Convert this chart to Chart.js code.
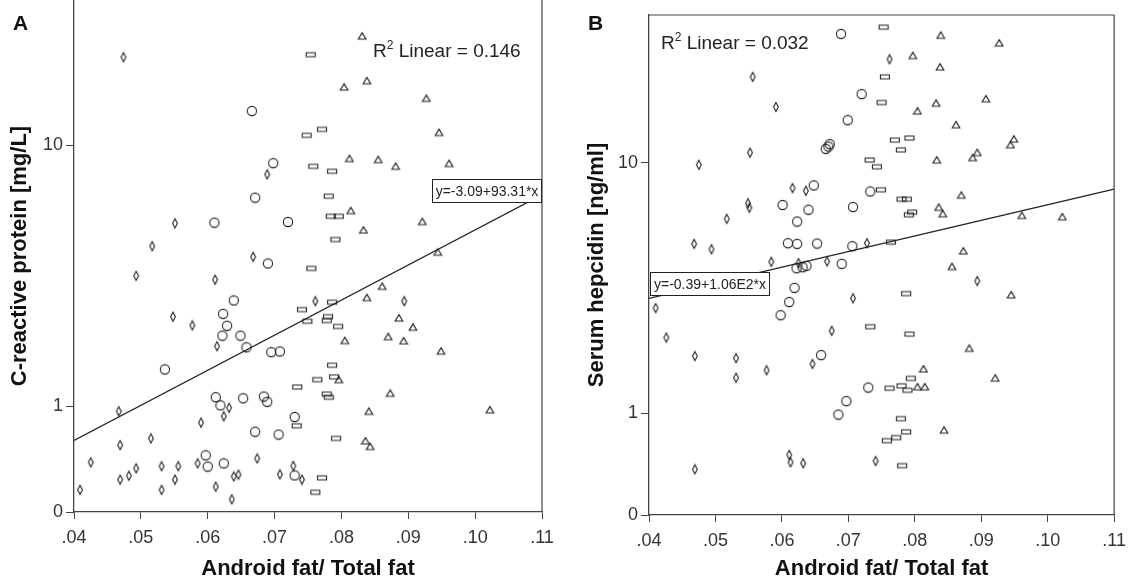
<!DOCTYPE html>
<html>
<head>
<meta charset="utf-8">
<script src="https://cdn.jsdelivr.net/npm/chart.js@4.4.1/dist/chart.umd.min.js"></script>
<style>
  html, body { margin: 0; padding: 0; background: #fff; overflow: hidden; }
  #wrap { position: relative; width: 1134px; height: 582px; overflow: hidden; }
  .panel { position: absolute; width: 567px; }
  #pA { left: 0; top: -6px; height: 588px; }
  #pB { left: 567px; top: 0; height: 582px; }
</style>
</head>
<body>
<div id="wrap">
  <div class="panel" id="pA"><canvas id="chartA"></canvas></div>
  <div class="panel" id="pB"><canvas id="chartB"></canvas></div>
</div>
<script>
// x: android fat / total fat. y values are stored as log10(value + 1), the plotted scale.
const xTicks = [0.04, 0.05, 0.06, 0.07, 0.08, 0.09, 0.10, 0.11];
const xTickLabels = ['.04', '.05', '.06', '.07', '.08', '.09', '.10', '.11'];
const yTickValues = [0, 1, 10];
const yTickLabels = ['0', '1', '10'];

// ---- panel A: C-reactive protein ----
const crpDiamondX = [.0474, .0551, .0517, .0689, .0668, .0493, .0611, .0548, .0577, .0614, .0467, .0632,
  .0624, .0590, .0515, .0469, .0425, .0409, .0469, .0482, .0493, .0531, .0531, .0551, .0556, .0585, .0612,
  .0636, .0639, .0646, .0674, .0708, .0728, .0761, .0894, .0741];
const crpDiamondY = [1.292, .820, .755, .959, .725, .671, .660, .555, .530, .471, .286, .296,
  .272, .254, .209, .190, .141, .063, .092, .103, .124, .130, .063, .092, .130, .138, .072,
  .036, .101, .106, .152, .107, .131, .599, .599, .092];

const crpCircleX = [.0666, .0698, .0671, .0610, .0720, .0690, .0639, .0623, .0629, .0622, .0649, .0658,
  .0695, .0708, .0536, .0612, .0619, .0653, .0684, .0689, .0671, .0706, .0597, .0600, .0624, .0730, .0730];
const crpCircleY = [1.139, .991, .893, .822, .824, .706, .601, .563, .529, .501, .501, .468,
  .454, .456, .405, .326, .303, .323, .328, .313, .228, .220, .161, .129, .138, .104, .270];

const crpRectX = [.0754, .0748, .0771, .0758, .0786, .0781, .0784, .0796, .0791, .0755, .0786, .0741,
  .0749, .0780, .0778, .0795, .0786, .0764, .0789, .0734, .0778, .0781, .0733, .0792, .0771, .0761];
const crpRectY = [1.299, 1.070, 1.087, .982, .968, .897, .840, .840, .774, .692, .596, .575,
  .542, .555, .544, .527, .417, .376, .384, .355, .335, .326, .245, .209, .097, .056];

const crpTriX = [.0831, .0804, .0838, .0927, .0946, .0812, .0855, .0881, .0961, .0814, .0833, .0921,
  .0944, .0861, .0838, .0886, .0907, .0805, .0870, .0893, .0949, .0796, .0873, .0841, .1022, .0836, .0843];
const crpTriY = [1.352, 1.207, 1.225, 1.175, 1.078, 1.004, 1.001, .982, .990, .856, .801, .825,
  .738, .641, .609, .551, .525, .487, .498, .486, .457, .376, .337, .286, .290, .202, .186];

const crpFitX = [0.04, 0.11];
const crpFitY = [0.203, 0.901];

// ---- panel B: serum hepcidin ----
const hepDiamondX = [.0556, .0591, .0552, .0475, .0616, .0636, .0549, .0551, .0517, .0468, .0494, .0584,
  .0728, .0762, .0668, .0625, .0707, .0410, .0426, .0675, .0469, .0531, .0531, .0577, .0646, .0469,
  .0611, .0613, .0632, .0741, .0894];
const hepDiamondY = [1.296, 1.207, 1.072, 1.036, .967, .959, .922, .909, .876, .802, .786, .749,
  .804, 1.348, .750, .745, .641, .612, .525, .545, .470, .464, .406, .428, .447, .135,
  .178, .156, .153, .160, .692];

const hepCircleX = [.0689, .0720, .0699, .0672, .0670, .0666, .0648, .0601, .0640, .0707, .0623, .0733,
  .0609, .0623, .0653, .0706, .0690, .0622, .0631, .0637, .0619, .0611, .0598, .0659, .0730, .0697, .0685];
const hepCircleY = [1.423, 1.245, 1.168, 1.097, 1.090, 1.083, .975, .917, .903, .911, .868, .957,
  .804, .802, .803, .795, .743, .730, .733, .737, .672, .630, .591, .473, .377, .337, .297];

const hepRectX = [.0753, .0755, .0750, .0732, .0743, .0770, .0792, .0779, .0749, .0780, .0788, .0796,
  .0791, .0764, .0733, .0787, .0792, .0794, .0762, .0780, .0789, .0779, .0787, .0772, .0758, .0781];
const hepRectY = [1.443, 1.296, 1.220, 1.050, 1.030, 1.109, 1.115, 1.080, .962, .934, .934, .896,
  .888, .807, .557, .655, .535, .404, .375, .382, .369, .285, .246, .229, .220, .146];

const hepTriX = [.0839, .0927, .0797, .0838, .0907, .0832, .0804, .0862, .0949, .0944, .0894, .0887,
  .0833, .0870, .0836, .0842, .0961, .1022, .0873, .0856, .0945, .0882, .0813, .0921, .0804, .0815, .0844];
const hepTriY = [1.419, 1.396, 1.359, 1.325, 1.231, 1.218, 1.195, 1.154, 1.112, 1.095, 1.072, 1.057,
  1.050, .946, .910, .891, .886, .882, .781, .735, .651, .493, .432, .405, .379, .379, .251];

const hepFitX = [0.04, 0.11];
const hepFitY = [0.641, 0.964];

const FONT = '"Liberation Sans", Arial, sans-serif';
Chart.defaults.font.family = FONT;

// little outline markers drawn once and used as point images
function makeMarker(kind) {
  const c = document.createElement('canvas');
  if (kind === 'circle') { c.width = 12; c.height = 12; }
  else if (kind === 'diamond') { c.width = 8; c.height = 12; }
  else if (kind === 'rect') { c.width = 12; c.height = 8; }
  else { c.width = 10; c.height = 10; }
  const g = c.getContext('2d');
  g.strokeStyle = '#222';
  g.lineWidth = 1.1;
  g.beginPath();
  if (kind === 'circle') {
    g.arc(6, 6, 4.6, 0, Math.PI * 2);
  } else if (kind === 'diamond') {
    g.moveTo(4, 1.4); g.lineTo(6.4, 6); g.lineTo(4, 10.6); g.lineTo(1.6, 6); g.closePath();
  } else if (kind === 'rect') {
    g.rect(1.5, 2, 9, 4);
  } else {
    g.moveTo(5, 1.6); g.lineTo(8.8, 8); g.lineTo(1.2, 8); g.closePath();
  }
  g.stroke();
  return c;
}
const markers = {
  diamond: makeMarker('diamond'),
  circle: makeMarker('circle'),
  rect: makeMarker('rect'),
  tri: makeMarker('tri')
};

function pts(xs, ys) {
  return xs.map((v, i) => ({ x: v, y: ys[i] }));
}

function groupSet(xs, ys, marker) {
  return {
    data: pts(xs, ys),
    pointStyle: marker,
    pointRadius: 5,
    showLine: false
  };
}

const decor = {
  id: 'decor',
  afterDatasetsDraw(chart, args, o) {
    const { ctx, chartArea: a } = chart;
    const dy = o.shift;
    ctx.save();
    // top + right frame
    ctx.strokeStyle = '#444';
    ctx.lineWidth = 1.2;
    ctx.beginPath();
    if (o.topLine) { ctx.moveTo(a.left, a.top); ctx.lineTo(a.right, a.top); }
    ctx.moveTo(a.right, a.top - (o.topLine ? 0 : 8)); ctx.lineTo(a.right, a.bottom);
    ctx.stroke();

    // fit equation box
    const bx = o.box.right ? a.right - o.box.w : a.left + o.box.dx;
    const by = o.box.y + dy;
    ctx.fillStyle = '#fff';
    ctx.fillRect(bx, by, o.box.w, o.box.h);
    ctx.strokeStyle = '#222';
    ctx.lineWidth = 1;
    ctx.strokeRect(bx + 0.5, by + 0.5, o.box.w - 1, o.box.h - 1);
    ctx.fillStyle = '#222';
    ctx.font = '14px ' + FONT;
    ctx.textAlign = 'center';
    ctx.textBaseline = 'middle';
    ctx.fillText(o.eq, bx + o.box.w / 2, by + o.box.h / 2 + 1);

    // R2 label
    ctx.textAlign = 'left';
    ctx.textBaseline = 'alphabetic';
    let x = a.left + o.r2.dx;
    const y = o.r2.y + dy;
    ctx.font = '19px ' + FONT;
    ctx.fillText('R', x, y);
    x += ctx.measureText('R').width;
    ctx.font = '12px ' + FONT;
    ctx.fillText('2', x, y - 8.5);
    x += ctx.measureText('2').width;
    ctx.font = '19px ' + FONT;
    ctx.fillText(' Linear = ' + o.r2.text, x, y);

    // panel letter
    ctx.font = 'bold 21px ' + FONT;
    ctx.fillStyle = '#111';
    ctx.fillText(o.letter, o.letterX, 30 + dy);
    ctx.restore();
  }
};

function makeChart(id, sets, fitX, fitY, yMax, yTitle, geo, deco) {
  const datasets = [
    {
      data: pts(fitX, fitY),
      showLine: true,
      pointRadius: 0,
      borderColor: '#222',
      borderWidth: 1.3
    },
    groupSet(sets[0][0], sets[0][1], markers.diamond),
    groupSet(sets[1][0], sets[1][1], markers.circle),
    groupSet(sets[2][0], sets[2][1], markers.rect),
    groupSet(sets[3][0], sets[3][1], markers.tri)
  ];
  return new Chart(document.getElementById(id), {
    type: 'scatter',
    data: { datasets: datasets },
    plugins: [decor],
    options: {
      responsive: true,
      maintainAspectRatio: false,
      animation: false,
      events: [],
      layout: { padding: { left: 0, right: geo.padRight, top: geo.padTop, bottom: 0 } },
      plugins: {
        legend: { display: false },
        tooltip: { enabled: false },
        decor: deco
      },
      scales: {
        x: {
          type: 'linear',
          min: 0.04,
          max: 0.11,
          afterBuildTicks: s => { s.ticks = xTicks.map(v => ({ value: v })); },
          afterFit: s => { s.height = geo.xH; },
          ticks: {
            callback: (v, i) => xTickLabels[i],
            color: '#333',
            font: { size: 18 },
            padding: 8,
            maxRotation: 0
          },
          grid: { drawOnChartArea: false, drawTicks: true, tickLength: 7, color: '#444', lineWidth: 1 },
          border: { display: true, color: '#444', width: 1.3 },
          title: {
            display: true,
            text: 'Android fat/ Total fat',
            color: '#111',
            font: { size: 22, weight: 'bold' },
            padding: { top: 0, bottom: 0 }
          }
        },
        y: {
          type: 'linear',
          min: 0,
          max: yMax,
          afterBuildTicks: s => { s.ticks = yTickValues.map(v => ({ value: Math.log10(v + 1) })); },
          afterFit: s => { s.width = geo.yW; s.paddingTop = 0; s.paddingBottom = 0; },
          ticks: {
            callback: (v, i) => yTickLabels[i],
            color: '#333',
            font: { size: 18 },
            padding: 3
          },
          grid: { drawOnChartArea: false, drawTicks: true, tickLength: 8, color: '#444', lineWidth: 1 },
          border: { display: true, color: '#444', width: 1.3 },
          title: {
            display: true,
            text: yTitle,
            color: '#111',
            font: { size: 22, weight: 'bold' },
            padding: { top: geo.titlePad, bottom: 0 }
          }
        }
      }
    }
  });
}

// panel A canvas sits 6px above the page top so its plot reaches the top edge
makeChart('chartA',
  [[crpDiamondX, crpDiamondY], [crpCircleX, crpCircleY], [crpRectX, crpRectY], [crpTriX, crpTriY]],
  crpFitX, crpFitY, 1.4545, 'C-reactive protein [mg/L]',
  { padRight: 25, padTop: 0, xH: 70, yW: 74, titlePad: 7 },
  {
    topLine: false,
    shift: 6,
    letter: 'A', letterX: 13,
    eq: 'y=-3.09+93.31*x',
    box: { right: true, w: 110, y: 179, h: 24 },
    r2: { dx: 299, y: 57, text: '0.146' }
  });

makeChart('chartB',
  [[hepDiamondX, hepDiamondY], [hepCircleX, hepCircleY], [hepRectX, hepRectY], [hepTriX, hepTriY]],
  hepFitX, hepFitY, 1.479, 'Serum hepcidin [ng/ml]',
  { padRight: 16, padTop: 15, xH: 67, yW: 82, titlePad: 17 },
  {
    topLine: true,
    shift: 0,
    letter: 'B', letterX: 21,
    eq: 'y=-0.39+1.06E2*x',
    box: { right: false, dx: 1, w: 120, y: 272, h: 24 },
    r2: { dx: 12, y: 49, text: '0.032' }
  });
</script>
</body>
</html>
